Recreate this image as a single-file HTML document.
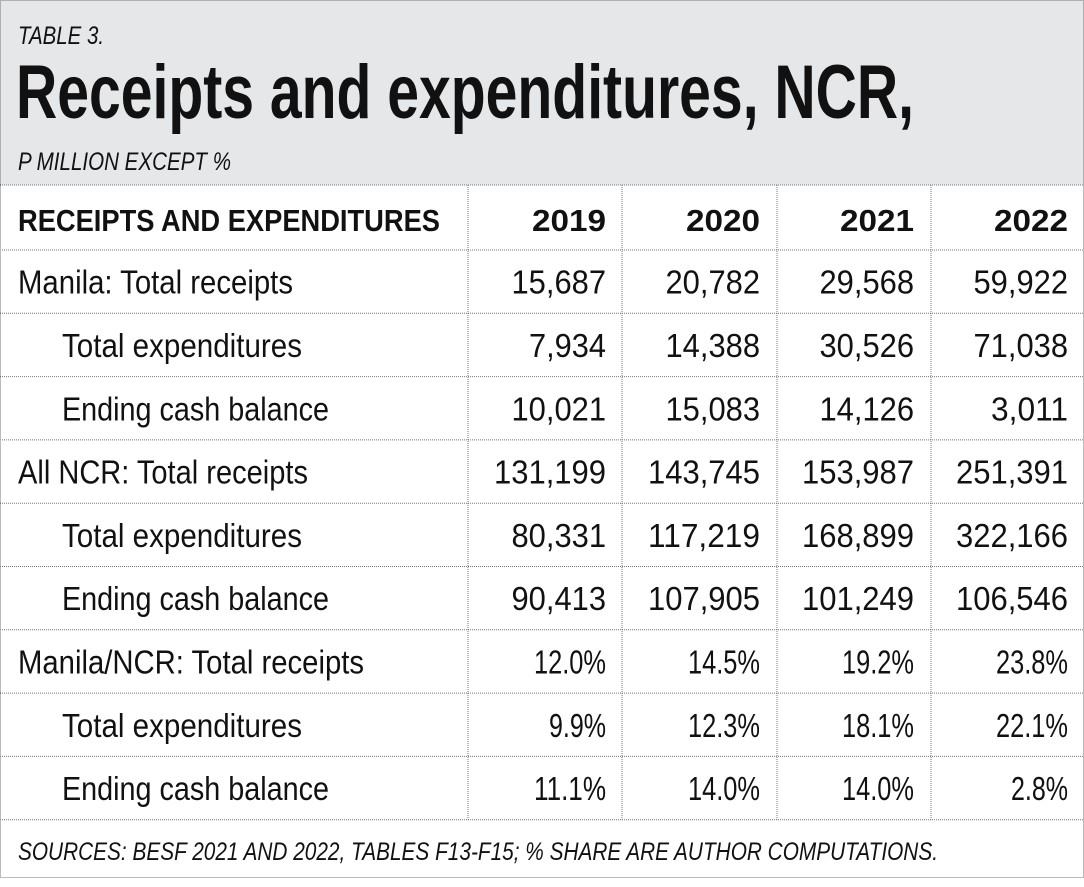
<!DOCTYPE html>
<html><head><meta charset="utf-8">
<style>
html,body{margin:0;padding:0;background:#fff;}
svg{display:block;}
text{font-family:"Liberation Sans Narrow","Liberation Sans",sans-serif;fill:#111;}
</style></head>
<body>
<svg id="tbl" width="1084" height="887" viewBox="0 0 1084 887">
  <rect x="0" y="0" width="1084" height="185" fill="#e6e7e9"/>
  <rect x="0.5" y="0.5" width="1083" height="877" fill="none" stroke="#777" stroke-dasharray="1 1"/>
  <text x="18" y="44" font-size="25" font-style="italic" textLength="86" lengthAdjust="spacingAndGlyphs">TABLE 3.</text>
  <text x="16" y="118" font-size="76" font-weight="bold" textLength="898" lengthAdjust="spacingAndGlyphs">Receipts and expenditures, NCR,</text>
  <text x="18" y="170" font-size="25" font-style="italic" textLength="213" lengthAdjust="spacingAndGlyphs">P MILLION EXCEPT %</text>
  <g id="grid"></g>
  <g id="cells"></g>
  <text x="18" y="860" font-size="25" font-style="italic" textLength="920" lengthAdjust="spacingAndGlyphs">SOURCES: BESF 2021 AND 2022, TABLES F13-F15; % SHARE ARE AUTHOR COMPUTATIONS.</text>
</svg>
<script>
const years = ["2019","2020","2021","2022"];
const rowLabels = ["Manila: Total receipts","Total expenditures","Ending cash balance","All NCR: Total receipts","Total expenditures","Ending cash balance","Manila/NCR: Total receipts","Total expenditures","Ending cash balance"];
const rowIndent = [false,true,true,false,true,true,false,true,true];
const values2019 = ["15,687","7,934","10,021","131,199","80,331","90,413","12.0%","9.9%","11.1%"];
const values2020 = ["20,782","14,388","15,083","143,745","117,219","107,905","14.5%","12.3%","14.0%"];
const values2021 = ["29,568","30,526","14,126","153,987","168,899","101,249","19.2%","18.1%","14.0%"];
const values2022 = ["59,922","71,038","3,011","251,391","322,166","106,546","23.8%","22.1%","2.8%"];
const labelWidths = [275,240,267,290,240,267,346,240,267];

const NS="http://www.w3.org/2000/svg";
const grid=document.getElementById('grid'), cells=document.getElementById('cells');
const colLines=[468,622,777,931];
const colRight=[606,760,914,1068];
const headerTop=185, headerBottom=250, rowH=63.3;
function line(x1,y1,x2,y2,name){
  const l=document.createElementNS(NS,'line');
  l.setAttribute('x1',x1);l.setAttribute('y1',y1);l.setAttribute('x2',x2);l.setAttribute('y2',y2);
  l.setAttribute('stroke','#777');l.setAttribute('stroke-dasharray','1 1');
  
  
  grid.appendChild(l);
}
line(0,headerTop,1084,headerTop,'header-divider');
const nRows=rowLabels.length;
const tableBottom=headerBottom+nRows*rowH;
for(let i=0;i<=nRows;i++){ line(0,headerBottom+i*rowH,1084,headerBottom+i*rowH,'row-divider'); }
colLines.forEach(x=>line(x,headerTop,x,tableBottom,'column-divider'));
function estW(s){
  let w=0;const pct=s.indexOf('%')>=0;
  for(const c of s){
    if(/[0-9]/.test(c))w+=pct?15:17.5;
    else if(c==='%')w+=20;
    else w+=7;
  }
  return w;
}
function txt(x,y,s,opts,name){
  const t=document.createElementNS(NS,'text');
  t.setAttribute('x',x);t.setAttribute('y',y);
  t.setAttribute('font-size',opts.size||33);
  if(opts.bold)t.setAttribute('font-weight','bold');
  if(opts.anchor)t.setAttribute('text-anchor',opts.anchor);
  if(opts.len){t.setAttribute('textLength',opts.len);t.setAttribute('lengthAdjust','spacingAndGlyphs');}
  t.textContent=s;
  
  
  cells.appendChild(t);
}
txt(18,231,"RECEIPTS AND EXPENDITURES",{bold:true,size:31,len:422},'column-header-label');
years.forEach((y,j)=>txt(colRight[j],231,y,{bold:true,size:31,anchor:'end',len:74},'column-header-year'));
const cols=[values2019,values2020,values2021,values2022];
for(let i=0;i<nRows;i++){
  const base=headerBottom+i*rowH+rowH/2+12;
  const x=rowIndent[i]?62:18;
  txt(x,base,rowLabels[i],{size:33,len:labelWidths[i]},'row-label');
  cols.forEach((arr,j)=>{
    const s=arr[i];
    txt(colRight[j],base,s,{size:33,anchor:'end',len:estW(s)},'cell-value');
  });
}
</script>
</body></html>
